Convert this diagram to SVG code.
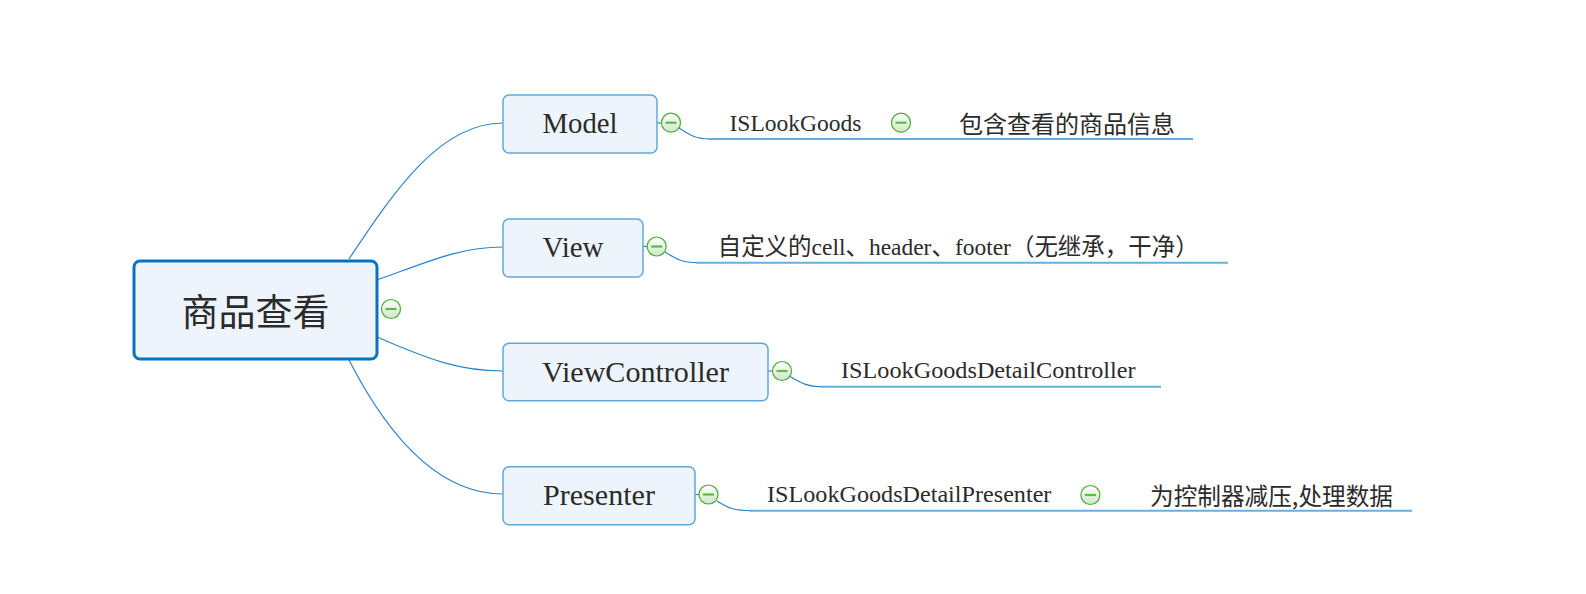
<svg xmlns="http://www.w3.org/2000/svg" width="1586" height="594" viewBox="0 0 1586 594">
<defs>
<linearGradient id="cg" x1="0" y1="0" x2="0" y2="1">
<stop offset="0" stop-color="#ffffff"/>
<stop offset="1" stop-color="#cfe6c8"/>
</linearGradient>
<g id="collapse">
<circle r="9.5" fill="url(#cg)" stroke="#4cae32" stroke-width="1.2"/>
<line x1="-5.5" y1="0" x2="5.5" y2="0" stroke="#5cbb45" stroke-width="2.2"/>
</g>
</defs>
<style>
.node{fill:#eef4fb;stroke:#62a8dc;stroke-width:1.5}
.root{fill:#eef4fb;stroke:#0b72bd;stroke-width:3}
.conn{fill:none;stroke:#2b86c8;stroke-width:1.2}
.under{fill:none;stroke:#6aaee0;stroke-width:2}
.lbl{font-family:"Liberation Serif","Noto Sans CJK SC",serif;fill:#2b2b2b}
.main{font-size:29px;text-anchor:middle}
.sub{font-size:24px}
.cjk{font-family:"Noto Sans CJK SC","Liberation Sans",sans-serif;fill:#2b2b2b}
</style>
<rect width="1586" height="594" fill="#ffffff"/>
<g id="connectors">
<path class="conn" d="M349,259 C395,190 440,123 503,123"/>
<path class="conn" d="M377,280 C430,261 460,247 503,247"/>
<path class="conn" d="M377,337 C430,360 460,371 503,371"/>
<path class="conn" d="M349,360 C390,440 440,494 503,494"/>
<path class="conn" d="M657,123 H662"/>
<path class="conn" d="M643,246.5 H648"/>
<path class="conn" d="M768,371 H773"/>
<path class="conn" d="M695,494.5 H699"/>
<path class="conn" d="M679,128 C690,135 695,139 710,139"/>
<path class="under" d="M708,139 H1193"/>
<path class="conn" d="M665,252 C676,259 682,262.7 698,262.7"/>
<path class="under" d="M696,262.7 H1228"/>
<path class="conn" d="M790,376.5 C801,383 807,386.7 823,386.7"/>
<path class="under" d="M821,386.7 H1161"/>
<path class="conn" d="M717,501 C728,508 734,510.7 752,510.7"/>
<path class="under" d="M750,510.7 H1412"/>
</g>
<g id="root">
<rect class="root" x="134" y="261" width="243" height="98" rx="6"/>
<text class="cjk" x="255.5" y="326" font-size="37" text-anchor="middle">商品查看</text>
<use href="#collapse" x="391" y="309"/>
</g>
<g id="model">
<rect class="node" x="503" y="95" width="154" height="58" rx="6"/>
<text class="lbl main" x="580" y="133.3" textLength="75" lengthAdjust="spacingAndGlyphs">Model</text>
<use href="#collapse" x="671" y="122.7"/>
</g>
<g id="view">
<rect class="node" x="503" y="219" width="140" height="58" rx="6"/>
<text class="lbl main" x="573" y="256.7" textLength="61" lengthAdjust="spacingAndGlyphs">View</text>
<use href="#collapse" x="656.7" y="246.5"/>
</g>
<g id="viewcontroller">
<rect class="node" x="503" y="343.3" width="265" height="57.5" rx="6"/>
<text class="lbl main" x="635.5" y="381.7" textLength="187" lengthAdjust="spacingAndGlyphs">ViewController</text>
<use href="#collapse" x="782" y="371"/>
</g>
<g id="presenter">
<rect class="node" x="503" y="466.7" width="192" height="58" rx="6"/>
<text class="lbl main" x="599" y="505" textLength="112" lengthAdjust="spacingAndGlyphs">Presenter</text>
<use href="#collapse" x="708.5" y="494.5"/>
</g>
<g id="islookgoods">
<text class="lbl sub" x="729.5" y="130.7" textLength="132" lengthAdjust="spacingAndGlyphs">ISLookGoods</text>
<use href="#collapse" x="901" y="122.7"/>
</g>
<g id="model-info">
<text class="cjk" x="959" y="133" font-size="24" textLength="216" lengthAdjust="spacingAndGlyphs">包含查看的商品信息</text>
</g>
<g id="view-info">
<text class="lbl sub" x="717.7" y="255" textLength="481" lengthAdjust="spacingAndGlyphs">自定义的cell、header、footer（无继承，干净）</text>
</g>
<g id="vc-info">
<text class="lbl sub" x="841" y="378.3" textLength="294.6" lengthAdjust="spacingAndGlyphs">ISLookGoodsDetailController</text>
</g>
<g id="presenter-child">
<text class="lbl sub" x="767" y="501.7" textLength="284.4" lengthAdjust="spacingAndGlyphs">ISLookGoodsDetailPresenter</text>
<use href="#collapse" x="1090.4" y="495"/>
</g>
<g id="presenter-info">
<text class="cjk" x="1150" y="505" font-size="24" textLength="243" lengthAdjust="spacingAndGlyphs">为控制器减压,处理数据</text>
</g>
</svg>
